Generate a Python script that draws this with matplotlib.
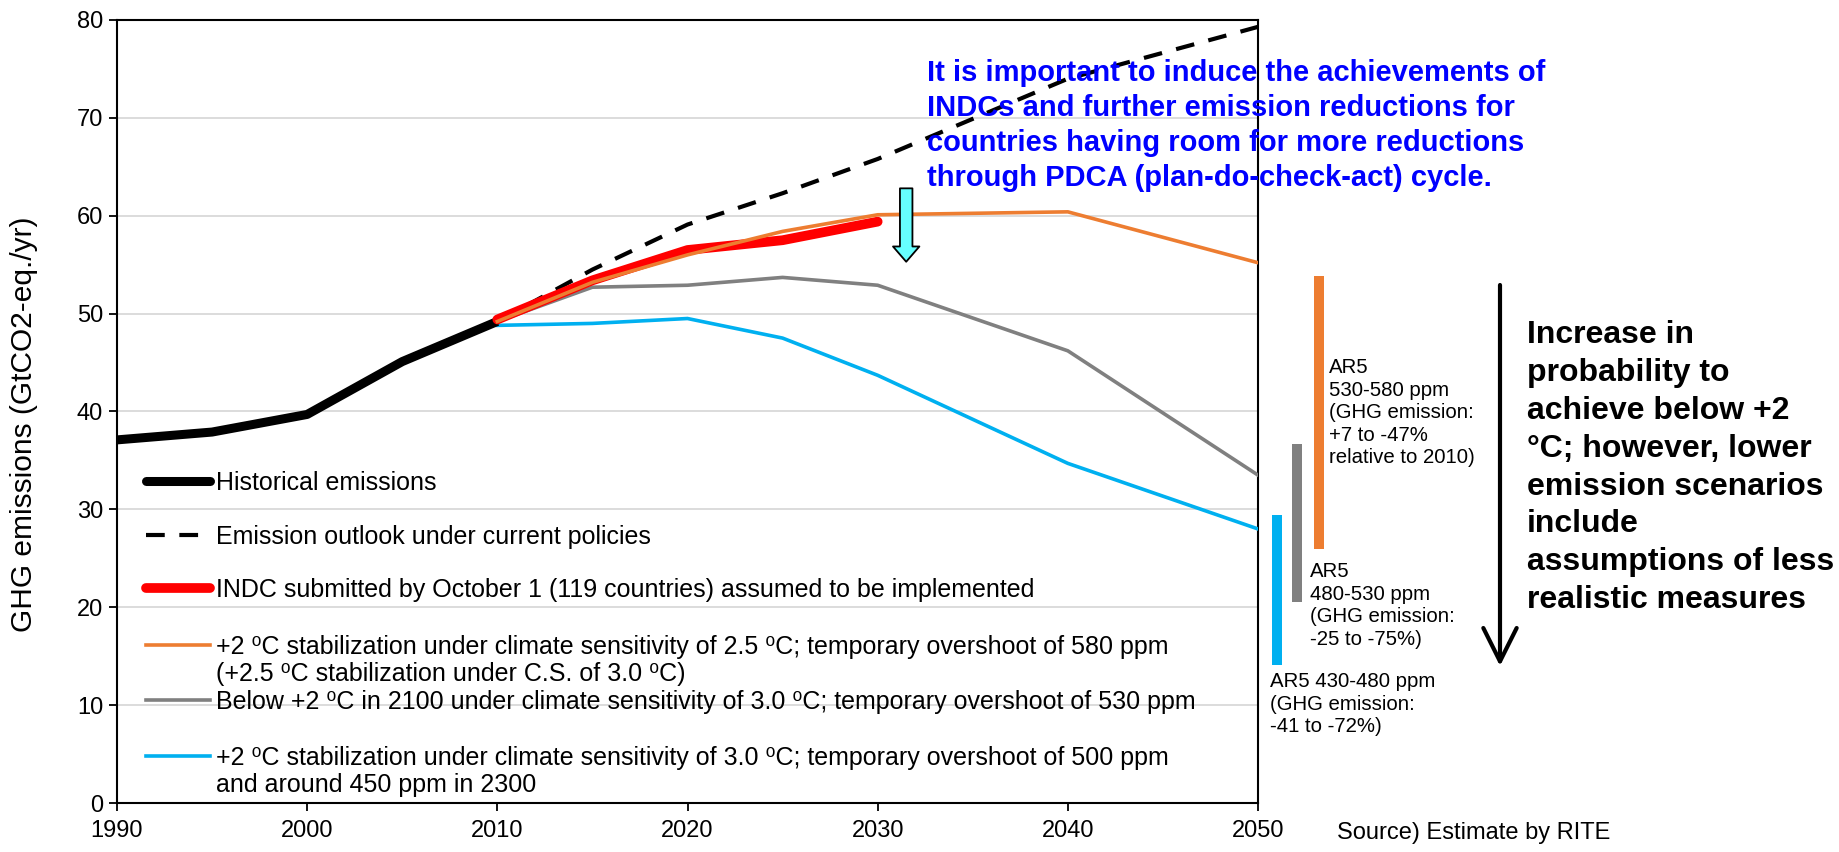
import matplotlib
matplotlib.use("Agg")
import matplotlib.pyplot as plt
from matplotlib.lines import Line2D
from matplotlib.patches import FancyArrowPatch

plt.rcParams['font.family'] = ['Liberation Sans', 'DejaVu Sans']

# ---------------- data ----------------
hist_years = [1990, 1995, 2000, 2005, 2010]
hist_vals = [37.1, 37.9, 39.7, 45.1, 49.2]

cp_years = [2010, 2015, 2020, 2025, 2030, 2040, 2050]
cp_vals = [49.2, 54.5, 59.1, 62.3, 65.8, 74.0, 79.3]

indc_years = [2010, 2015, 2020, 2025, 2030]
indc_vals = [49.4, 53.4, 56.5, 57.5, 59.4]

sc_years = [2010, 2015, 2020, 2025, 2030, 2040, 2050]
orange_vals = [49.2, 53.2, 56.0, 58.4, 60.1, 60.4, 55.2]
gray_vals = [49.2, 52.7, 52.9, 53.7, 52.9, 46.2, 33.5]
blue_vals = [48.8, 49.0, 49.5, 47.5, 43.7, 34.7, 28.0]

ar5_low = [14.1, 20.5, 26.0]
ar5_high = [29.4, 36.7, 53.8]

x_ticks = [1990, 2000, 2010, 2020, 2030, 2040, 2050]
y_ticks = [0, 10, 20, 30, 40, 50, 60, 70, 80]

legend_labels = [
    "Historical emissions",
    "Emission outlook under current policies",
    "INDC submitted by October 1 (119 countries) assumed to be implemented",
    "+2 \u2070C stabilization under climate sensitivity of 2.5 \u2070C; temporary overshoot of 580 ppm\n(+2.5 \u2070C stabilization under C.S. of 3.0 \u2070C)",
    "Below +2 \u2070C in 2100 under climate sensitivity of 3.0 \u2070C; temporary overshoot of 530 ppm",
    "+2 \u2070C stabilization under climate sensitivity of 3.0 \u2070C; temporary overshoot of 500 ppm\nand around 450 ppm in 2300",
]
ar5_labels = [
    "AR5 430-480 ppm\n(GHG emission:\n-41 to -72%)",
    "AR5\n480-530 ppm\n(GHG emission:\n-25 to -75%)",
    "AR5\n530-580 ppm\n(GHG emission:\n+7 to -47%\nrelative to 2010)",
]
note_text = ("It is important to induce the achievements of\n"
             "INDCs and further emission reductions for\n"
             "countries having room for more reductions\n"
             "through PDCA (plan-do-check-act) cycle.")
right_text = ("Increase in\nprobability to\nachieve below +2\n\u00b0C; however, lower\n"
              "emission scenarios\ninclude\nassumptions of less\nrealistic measures")
source_text = "Source) Estimate by RITE"
ylabel_text = "GHG emissions (GtCO2-eq./yr)"

# ---------------- colours ----------------
C_ORANGE = "#ED7D31"
C_GRAY = "#808080"
C_BLUE = "#00B0F0"
C_RED = "#FF0000"

# ---------------- figure ----------------
W, H = 1839, 852
fig = plt.figure(figsize=(W / 100, H / 100), dpi=100)

def fx(px):
    return px / W

def fy(py):
    return 1 - py / H

def text_lines(x_px, first_baseline_px, text, step_px, **kw):
    """Draw a multi-line text, one line per baseline, in figure pixel layout."""
    for i, line in enumerate(text.split("\n")):
        fig.text(fx(x_px), fy(first_baseline_px + i * step_px), line,
                 va="baseline", ha="left", **kw)

ax = fig.add_axes([fx(117), fy(803), fx(1258) - fx(117), fy(20) - fy(803)])
ax.set_xlim(1990, 2050)
ax.set_ylim(0, 80)
ax.set_xticks(x_ticks)
ax.set_yticks(y_ticks)
ax.tick_params(axis='both', direction='out', length=6, width=1.3, labelsize=17, pad=4)
ax.tick_params(axis='x', pad=6)
ax.yaxis.grid(True, color="#D9D9D9", lw=1.3)
ax.set_axisbelow(True)
for s in ax.spines.values():
    s.set_linewidth(1.5)
    s.set_color("black")
ax.set_ylabel(ylabel_text, fontsize=21.5)
ax.yaxis.set_label_coords(-0.069, 0.484)

# lines
ax.plot(cp_years, cp_vals, color="black", lw=3.0, dashes=(4.5, 3.5), zorder=2)
ax.plot(sc_years, gray_vals, color=C_GRAY, lw=2.6, zorder=3, solid_joinstyle='miter')
ax.plot(sc_years, blue_vals, color=C_BLUE, lw=2.6, zorder=3, solid_joinstyle='miter')
ax.plot(hist_years, hist_vals, color="black", lw=6.5, zorder=3, solid_capstyle='butt')
ax.plot(indc_years, indc_vals, color=C_RED, lw=7.0, zorder=4, solid_capstyle='round')
ax.plot(sc_years, orange_vals, color=C_ORANGE, lw=2.6, zorder=5)

# AR5 ranges beside the axis
ar5_x = [2051.0, 2052.05, 2053.2]
ar5_colors = [C_BLUE, C_GRAY, C_ORANGE]
heights = [h - l for h, l in zip(ar5_high, ar5_low)]
ax.bar(ar5_x, heights, bottom=ar5_low, width=0.56, color=ar5_colors, clip_on=False, zorder=3)

# cyan arrow
ax.annotate("", xy=(2031.5, 55.3), xytext=(2031.5, 62.8),
            arrowprops=dict(arrowstyle="simple,head_length=1.1,head_width=1.9,tail_width=0.9",
                            fc="#66FFFF", ec="black", lw=1.3, mutation_scale=10,
                            shrinkA=0, shrinkB=0), zorder=6)

# blue annotation text
text_lines(927, 80.7, note_text, 35, color="#0000FF", fontsize=21, fontweight="bold")

# manual legend
leg_y = [481, 535, 588, 645, 700, 756]
leg_styles = [
    dict(color="black", lw=6.5, solid_capstyle='round'),
    dict(color="black", lw=3.0, dashes=(4.5, 3.5)),
    dict(color=C_RED, lw=7.0, solid_capstyle='round'),
    dict(color=C_ORANGE, lw=2.6),
    dict(color=C_GRAY, lw=2.6),
    dict(color=C_BLUE, lw=2.6),
]
for yy, st, lab in zip(leg_y, leg_styles, legend_labels):
    ln = Line2D([fx(146), fx(210)], [fy(yy), fy(yy)], transform=fig.transFigure, **st)
    fig.add_artist(ln)
    text_lines(216, yy + 9, lab, 27, fontsize=18)

# AR5 labels
ar5_pos = [(1270, 687), (1310, 577), (1329, 373)]
for (px, py), lab in zip(ar5_pos, ar5_labels):
    text_lines(px, py, lab, 22.6, fontsize=14.7)

# black arrow and right-hand text
arr = FancyArrowPatch((fx(1500), fy(285)), (fx(1500), fy(666)), transform=fig.transFigure,
                      arrowstyle="->,head_length=0.8,head_width=0.4", mutation_scale=30,
                      lw=3, color="black", shrinkA=0, shrinkB=0)
fig.add_artist(arr)
text_lines(1527, 343, right_text, 37.9, fontsize=23, fontweight="bold")

fig.text(fx(1337), fy(833), source_text, fontsize=17, va="center", ha="left")

fig.savefig("out.png", dpi=100)
